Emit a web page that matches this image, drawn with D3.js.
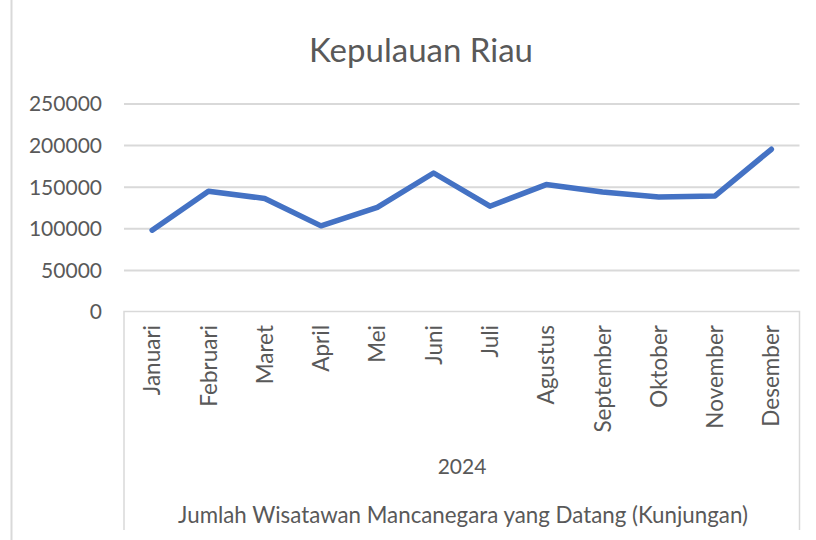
<!DOCTYPE html>
<html>
<head>
<meta charset="utf-8">
<script src="https://cdn.jsdelivr.net/npm/d3@7"></script>
<style>
  html, body { margin: 0; padding: 0; background: #fff; }
  svg { display: block; }
  text { font-family: Lato, "Open Sans", sans-serif; fill: #595959; }
</style>
</head>
<body>
<svg id="chart" width="816" height="540"></svg>
<script>
const title = "Kepulauan Riau";
const months = ["Januari","Februari","Maret","April","Mei","Juni","Juli","Agustus","September","Oktober","November","Desember"];
const visitors = [97800,144600,135900,103000,125100,166500,126600,152600,143800,137800,139000,195000];
const yTicks = [0,50000,100000,150000,200000,250000];
const groupLabel = "2024";
const axisTitle = "Jumlah Wisatawan Mancanegara yang Datang (Kunjungan)";

const svg = d3.select("#chart");
const W = 816, H = 540;
const plot = {left: 124, right: 799.5, top: 103.5, bottom: 311.6};

const x = d3.scaleBand().domain(months).range([plot.left, plot.right]).padding(0);
const y = d3.scaleLinear().domain([0, 250000]).range([plot.bottom, plot.top]);

// outer chart border (only left edge visible)
svg.append("line").attr("x1", 11.5).attr("x2", 11.5).attr("y1", 0).attr("y2", H)
  .attr("stroke", "#d9d9d9").attr("stroke-width", 2);

// title
svg.append("text").attr("x", 421).attr("y", 62).attr("text-anchor", "middle")
  .style("font-size", "33px").text(title);

// gridlines
const grid = svg.append("g").attr("transform", `translate(${plot.left},0)`)
  .call(d3.axisLeft(y).tickValues(yTicks.filter(d => d > 0)).tickSize(-(plot.right - plot.left)).tickFormat(""));
grid.select(".domain").remove();
grid.selectAll("line").attr("stroke", "#d9d9d9").attr("stroke-width", 2);

// y labels
const yAxis = svg.append("g").attr("transform", `translate(102,0)`)
  .call(d3.axisLeft(y).tickValues(yTicks).tickSize(0).tickPadding(0).tickFormat(d => String(d)));
yAxis.select(".domain").remove();
yAxis.selectAll("text").style("font-size", "21px").attr("fill", "#595959").attr("dy", "0.35em")
  .style("font-family", "Lato, 'Open Sans', sans-serif");

// category axis box
const box = d3.path();
box.moveTo(plot.left, 530); box.lineTo(plot.left, plot.bottom);
box.lineTo(plot.right, plot.bottom); box.lineTo(plot.right, 530);
svg.append("path").attr("d", box.toString()).attr("fill", "none")
  .attr("stroke", "#d9d9d9").attr("stroke-width", 1.5);

// month labels
svg.append("g").selectAll("text").data(months).join("text")
  .attr("transform", d => `translate(${x(d) + x.bandwidth() / 2},325) rotate(-90)`)
  .attr("text-anchor", "end").attr("dy", "0.36em")
  .style("font-size", "22.5px").text(d => d);

// group label & axis title
svg.append("text").attr("x", 462).attr("y", 474).attr("text-anchor", "middle")
  .style("font-size", "21px").text(groupLabel);
svg.append("text").attr("x", 463).attr("y", 522.5).attr("text-anchor", "middle")
  .style("font-size", "22.3px").text(axisTitle);

// line
const line = d3.line().x((d, i) => x(months[i]) + x.bandwidth() / 2).y(d => y(d));
svg.append("path").datum(visitors).attr("d", line).attr("fill", "none")
  .attr("stroke", "#4472C4").attr("stroke-width", 5.5)
  .attr("stroke-linejoin", "round").attr("stroke-linecap", "round");
</script>
</body>
</html>
